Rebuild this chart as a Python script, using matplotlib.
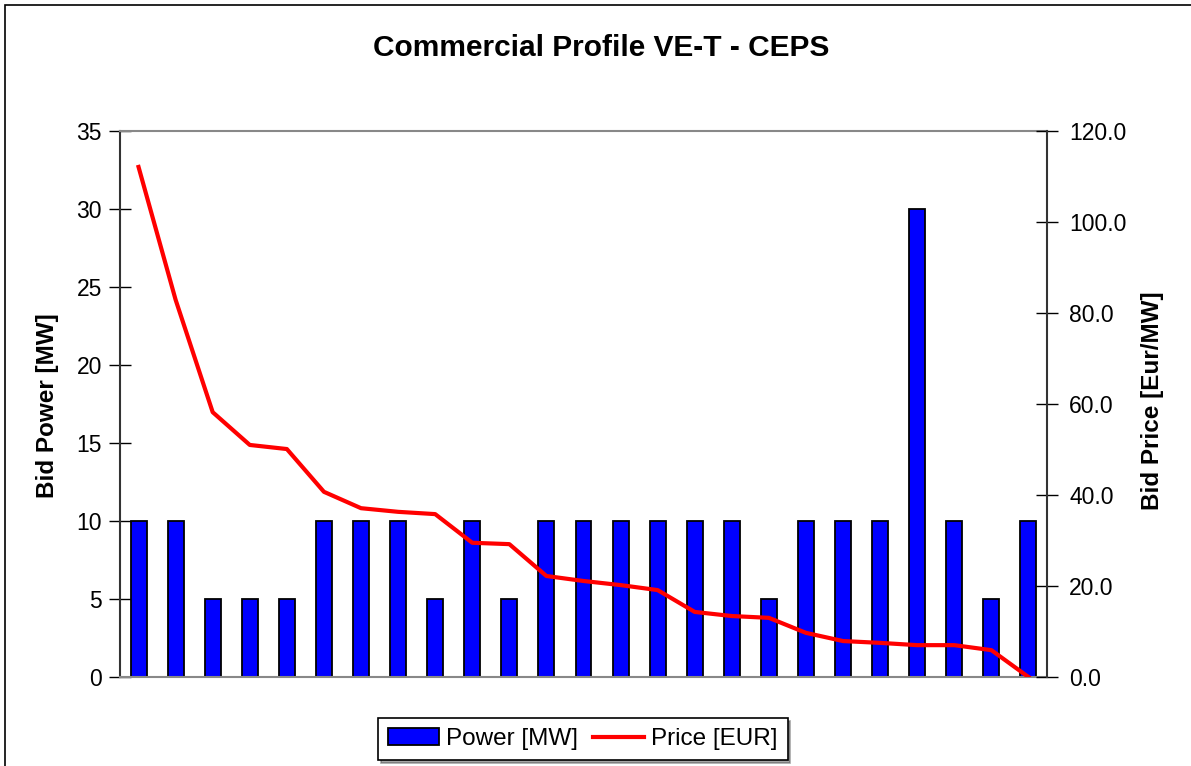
import matplotlib
matplotlib.use("Agg")
import matplotlib.pyplot as plt
from matplotlib.patches import Rectangle
import numpy as np

plt.rcParams['font.family'] = ['Liberation Sans', 'DejaVu Sans']

power = [10, 10, 5, 5, 5, 10, 10, 10, 5, 10, 5, 10, 10, 10, 10, 10, 10, 5, 10, 10, 10, 30, 10, 5, 10]
price = [112.1, 82.9, 58.2, 51.0, 50.1, 40.7, 37.1, 36.3, 35.8, 29.5, 29.2, 22.2, 21.1, 20.2, 19.1,
         14.3, 13.4, 13.0, 9.7, 7.9, 7.5, 7.0, 7.0, 5.9, 0.0]
left_ticks = [0, 5, 10, 15, 20, 25, 30, 35]
right_ticks = [0, 20, 40, 60, 80, 100, 120]

W, H = 1191, 766
fig = plt.figure(figsize=(W / 100, H / 100), dpi=100)
fig.patches.append(Rectangle((4.5 / W, -0.1), 1.2, 1.1 - 5 / H, transform=fig.transFigure,
                             fill=False, edgecolor='black', linewidth=1.2))

ax = fig.add_axes([120 / W, 1 - 677 / H, (1047 - 120) / W, (677 - 131) / H])
x = np.arange(len(power))
bars = ax.bar(x, power, width=0.43, color='#0000FF', edgecolor='black', linewidth=1.3,
              label='Power [MW]', zorder=2)
ax.set_xlim(-0.5, len(power) - 0.5)
ax.set_ylim(0, 35)
ax.set_yticks(left_ticks)
ax.set_xticks([])
ax.tick_params(axis='y', labelsize=16.5, direction='inout', length=16, width=1, pad=5)
for s in ['top', 'bottom']:
    ax.spines[s].set_color('#888888')
    ax.spines[s].set_linewidth(1.5)
ax.spines['left'].set_color('#333333')
ax.spines['left'].set_linewidth(1.5)
ax.spines['right'].set_visible(False)

ax2 = ax.twinx()
line, = ax2.plot(x, price, color='#FF0000', linewidth=3, label='Price [EUR]', zorder=3)
ax2.set_ylim(0, 120)
ax2.set_yticks(right_ticks)
ax2.set_yticklabels([f'{v:.1f}' for v in right_ticks])
ax2.tick_params(axis='y', labelsize=16.5, direction='inout', length=16, width=1, pad=8)
for s in ['top', 'bottom', 'left']:
    ax2.spines[s].set_visible(False)
ax2.spines['right'].set_color('#333333')
ax2.spines['right'].set_linewidth(1.5)

fig.text(48 / W, 1 - 406 / H, 'Bid Power [MW]', rotation=90, ha='center', va='center',
         fontsize=17.5, fontweight='bold')
fig.text(1152 / W, 1 - 401 / H, 'Bid Price [Eur/MW]', rotation=90, ha='center', va='center',
         fontsize=17.5, fontweight='bold')

fig.text(601 / W, 1 - 48 / H, 'Commercial Profile VE-T - CEPS',
         ha='center', va='center', fontsize=21.5, fontweight='bold')

leg = fig.legend([bars, line], ['Power [MW]', 'Price [EUR]'], loc='center',
                 bbox_to_anchor=(583 / W, 1 - 739 / H), ncol=2, fontsize=17.5,
                 frameon=True, fancybox=False, shadow=True, edgecolor='black',
                 handlelength=2.1, handletextpad=0.3, columnspacing=0.6, borderpad=0.4,
                 borderaxespad=0)
leg.get_frame().set_linewidth(1.2)

fig.savefig('out.png', dpi=100)
